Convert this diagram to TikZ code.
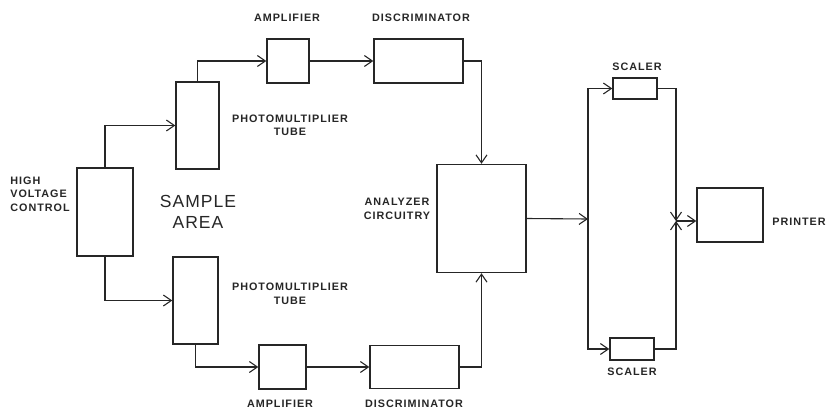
\documentclass[tikz,border=0pt]{standalone}
\usepackage{fontspec}
\setmainfont{Liberation Sans}
\newfontfamily\lblfont[LetterSpace=9]{Liberation Sans}
\newfontfamily\bigfont[LetterSpace=6]{Liberation Sans}
\usetikzlibrary{arrows.meta,positioning,calc}
\tikzset{
  box/.style={draw=black!85,line width=1.4pt,inner sep=0pt},    % plain block
  ar/.style={-{Straight Barb[length=8pt,width=11pt]},line width=1.1pt,draw=black!85},
  lbl/.style={font=\lblfont\bfseries\fontsize{10.8}{13.5}\selectfont,text=black!85,
              inner sep=0pt,align=center},
  big/.style={font=\bigfont\fontsize{17.5}{21}\selectfont,text=black!85,
              inner sep=0pt,align=center}
}

\begin{document}
\begin{tikzpicture}[x=1pt,y=-1pt]
  \useasboundingbox (0,0) rectangle (830,410);
  \node[box,minimum width=56,minimum height=88] (hv)    at (105,212)   {};
  \node[box,minimum width=43,minimum height=87] (pmt1)  at (197.5,125.5) {};
  \node[box,minimum width=45,minimum height=87] (pmt2)  at (195.5,300.5) {};
  \node[box,minimum width=42,minimum height=44] (amp1)  at (288,61)    {};
  \node[box,minimum width=89,minimum height=44] (disc1) at (418.5,61)  {};
  \node[box,minimum width=47,minimum height=44] (amp2)  at (282.5,367) {};
  \node[box,minimum width=89,minimum height=43] (disc2) at (414.5,367) {};
  \node[box,minimum width=89,minimum height=108] (ana)  at (481.5,218.5) {};
  \node[box,minimum width=44,minimum height=21] (sc1)   at (635,88.5)  {};
  \node[box,minimum width=44,minimum height=22] (sc2)   at (632,349)   {};
  \node[box,minimum width=66,minimum height=54] (prn)   at (730,215)   {};

  \node[lbl,align=left] (hvlbl)   at (40,194)    {HIGH\\VOLTAGE\\CONTROL};
  \node[big]            (sample)  at (198,212)   {SAMPLE\\AREA};
  \node[lbl]            (pmt1lbl) at (290,125.5) {PHOTOMULTIPLIER\\TUBE};
  \node[lbl]            (pmt2lbl) at (290,294)   {PHOTOMULTIPLIER\\TUBE};
  \node[lbl]            (amp1lbl) at (287,17.5)  {AMPLIFIER};
  \node[lbl]            (disc1lbl) at (421,18)   {DISCRIMINATOR};
  \node[lbl]            (amp2lbl) at (280,404)   {AMPLIFIER};
  \node[lbl]            (disc2lbl) at (414,404)  {DISCRIMINATOR};
  \node[lbl]            (analbl)  at (397,209)   {ANALYZER\\CIRCUITRY};
  \node[lbl]            (sc1lbl)  at (637,67)    {SCALER};
  \node[lbl]            (sc2lbl)  at (632,372)   {SCALER};
  \node[lbl]            (prnlbl)  at (799,222)   {PRINTER};

  \draw[ar] (hv.north) |- (pmt1.west);
  \draw[ar] (hv.south) |- (pmt2.west);
  \draw[ar] (pmt1.north) |- (amp1.west);
  \draw[ar] (pmt2.south) |- (amp2.west);
  \draw[ar] (amp1) -- (disc1);
  \draw[ar] (amp2) -- (disc2);
  \draw[ar] (disc1.east) -| (ana.north);
  \draw[ar] (disc2.east) -| (ana.south);

  \coordinate (split) at (588,219);
  \coordinate (join)  at (676,221);
  \draw[ar] (ana.east) -- (split);
  \draw[ar] (split) |- (sc1.west);
  \draw[ar] (split) |- (sc2.west);
  \draw[ar] (sc1.east) -| (join);
  \draw[ar] (sc2.east) -| (join);
  \draw[ar] (join) -- (join -| prn.west);
\end{tikzpicture}
\end{document}
